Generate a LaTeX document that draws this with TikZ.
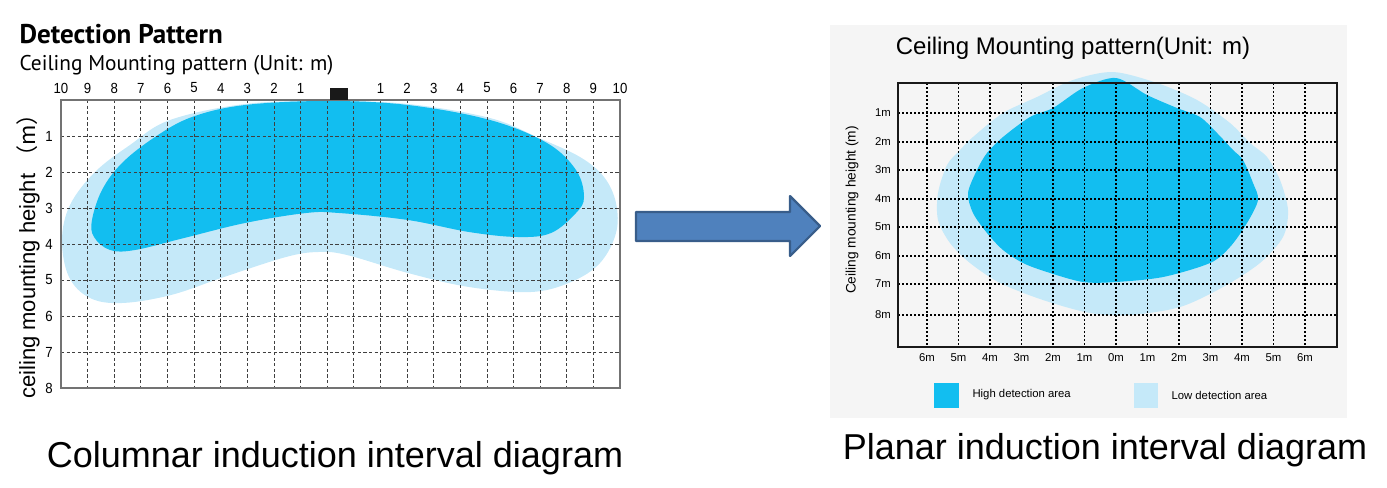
\documentclass[tikz,border=0pt]{standalone}
\usepackage{fontspec}
\setmainfont{Liberation Sans}
\newfontfamily\ptsans{PT Sans}
\newfontfamily\cjk{Noto Sans CJK SC}
\definecolor{hiblue}{RGB}{18,190,240}
\definecolor{loblue}{RGB}{197,233,249}
\definecolor{arrowfill}{RGB}{79,129,189}
\definecolor{arrowline}{RGB}{56,93,138}
\definecolor{panelgray}{RGB}{245,245,245}
\tikzset{every picture/.style={line width=0.75pt}}
\tikzset{
  dashgrid/.style={draw=black!75, line width=0.6pt, dash pattern=on 2.4pt off 1.8pt},
  dotgrid/.style={draw=black, line width=1.3pt, dash pattern=on 1.4pt off 1.6pt},
  ticklbl/.style={inner sep=0.75pt, font=\fontsize{11}{11}\selectfont, xscale=0.9},
  smalllbl/.style={inner sep=0.75pt, font=\fontsize{8.5}{8.5}\selectfont},
  caption/.style={inner sep=0.75pt, font=\fontsize{27}{32}\selectfont}
}

\begin{document}
\begin{tikzpicture}[x=0.75pt,y=0.75pt,yscale=-1,xscale=1]
\useasboundingbox (0,0) rectangle (1387,487);

%Shape: Rectangle [id:panel] 
\fill [panelgray] (830,25) rectangle (1347,418);

%Shape: Blob [id:leftlow] 
\fill [loblue] plot [smooth cycle, tension=0.6] coordinates {(62,240) (70,205) (95,172) (130,145) (170,120) (245,104) (327,101) (408,104) (490,118) (539,138) (580,157) (604,177) (616,203) (616,233) (600,263) (571,282) (531,292) (469,287) (408,273) (347,255) (318,252) (286,257) (224,277) (171,295) (122,303) (90,298) (69,277)};
%Shape: Blob [id:lefthigh] 
\fill [hiblue] plot [smooth cycle, tension=0.6] coordinates {(92,220) (102,190) (122,163) (155,137) (192,117) (245,105) (327,101) (408,105) (490,120) (547,143) (576,170) (584,197) (576,213) (551,233) (518,237) (469,232) (408,220) (339,213) (306,213) (245,223) (184,238) (135,250) (110,250) (94,237)};

%Straight Lines [id:leftgrid] 
\foreach \k in {1,...,20} {
  \draw [dashgrid] (61+26.62*\k,100) -- (61+26.62*\k,388);
}
\foreach \k in {1,...,7} {
  \draw [dashgrid] (61,100+36*\k) -- (620,100+36*\k);
}
%Shape: Rectangle [id:leftframe] 
\draw [black!55, line width=1pt] (61,100) rectangle (620,388);
%Shape: Rectangle [id:sensor] 
\fill [black!90] (330,88) rectangle (348,100);

% Text Node
\draw (18,34) node (title) [anchor=west] [inner sep=0.75pt] [font=\ptsans\bfseries\fontsize{20.3}{21}\selectfont] {Detection Pattern};
% Text Node
\draw (18,65) node (subtitle) [anchor=west] [inner sep=0.75pt] [font=\ptsans\fontsize{16}{17}\selectfont] {Ceiling Mounting pattern (Unit: m)};
% Text Node
\foreach \n [count=\k from 0] in {10,9,8,7,6,5,4,3,2,1} {
  \draw (61+26.62*\k,88) node (tl\k) [ticklbl] {\n};
}
\foreach \n [count=\k from 12] in {1,2,3,4,5,6,7,8,9,10} {
  \draw (61+26.62*\k,88) node (tr\k) [ticklbl] {\n};
}
\foreach \n in {1,...,8} {
  \draw (49,100+36*\n) node (row\n) [ticklbl] {\n};
}
% Text Node
\draw (28,251) node (yaxis) [rotate=90] [inner sep=0.75pt] [font=\fontsize{16.5}{17}\selectfont] {ceiling mounting height {\cjk （m）}};

%Shape: Right Arrow [id:bigarrow] 
\draw [arrowline, fill=arrowfill, line width=1.6pt, line join=round] (636,212) -- (790,212) -- (790,196) -- (820,226) -- (790,256) -- (790,241) -- (636,241) -- cycle ;

%Shape: Blob [id:rightlow] 
\fill [loblue] plot [smooth cycle, tension=0.5] coordinates {(1113,72) (1157,83) (1197,100) (1230,123) (1250,143) (1267,157) (1280,180) (1288,210) (1283,237) (1260,263) (1223,287) (1180,307) (1130,315) (1090,313) (1043,300) (1000,283) (970,263) (950,243) (938,220) (938,193) (947,165) (960,150) (973,137) (1003,113) (1037,97) (1073,80)};
%Shape: Blob [id:righthigh] 
\fill [hiblue] plot [smooth cycle, tension=0.5] coordinates {(1116,78) (1147,95) (1177,108) (1200,117) (1217,133) (1233,150) (1243,160) (1253,183) (1258,200) (1247,223) (1230,247) (1210,263) (1163,277) (1116,282) (1083,282) (1047,272) (1023,263) (1003,250) (987,233) (973,213) (968,193) (977,170) (987,153) (1003,137) (1030,117) (1053,108) (1083,88)};

%Straight Lines [id:rightgrid] 
\foreach \k in {0,...,12} {
  \draw [dotgrid] (927+31.5*\k,83) -- (927+31.5*\k,347);
}
\foreach \y in {113,142,170,199,227,256,284,315} {
  \draw [dotgrid] (898,\y) -- (1337,\y);
}
%Shape: Rectangle [id:rightframe] 
\draw [black!90, line width=1.6pt] (898,83) rectangle (1337,347);

% Text Node
\draw (1073,48) node (rtitle) [inner sep=0.75pt] [font=\fontsize{18}{20}\selectfont] {Ceiling Mounting pattern(Unit: m)};
% Text Node
\foreach \n [count=\k from 1] in {113,142,170,199,227,256,284,315} {
  \draw (883,\n) node (rrow\k) [smalllbl] {\k m};
}
\foreach \n [count=\k from 0] in {6,5,4,3,2,1,0,1,2,3,4,5,6} {
  \draw (927+31.5*\k,358) node (rcol\k) [smalllbl] {\n m};
}
% Text Node
\draw (852,210) node (ryaxis) [rotate=90] [inner sep=0.75pt] [font=\fontsize{10.3}{11}\selectfont] {Ceiling mounting height (m)};

%Shape: Square [id:keyhigh] 
\fill [hiblue] (934,383) rectangle (959,408);
%Shape: Square [id:keylow] 
\fill [loblue] (1134,383) rectangle (1158,408);
% Text Node
\draw (971,395) node (khigh) [anchor=west] [smalllbl] {High detection area};
% Text Node
\draw (1170,395) node (klow) [anchor=west] [smalllbl] {Low detection area};

% Text Node
\draw (335,458) node (capleft) [caption] {Columnar induction interval diagram};
% Text Node
\draw (1105,450) node (capright) [caption] {Planar induction interval diagram};

\end{tikzpicture}
\end{document}
